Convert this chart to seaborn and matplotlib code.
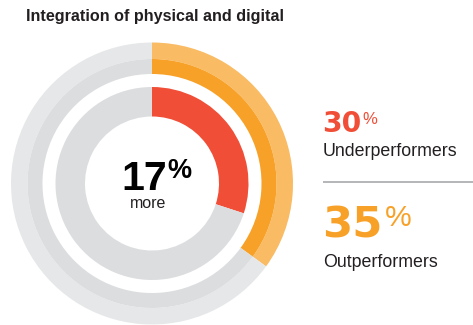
import matplotlib
matplotlib.use("Agg")
import matplotlib.pyplot as plt
import seaborn as sns

# ---- data ----
groups = ["Underperformers", "Outperformers"]
shares = [30, 35]            # % of each group integrating physical and digital
difference_pct = 17          # relative uplift shown in the centre
title = "Integration of physical and digital"
centre_note = "more"

# ---- style ----
sns.set_theme(style="white")
plt.rcParams["font.family"] = ["Liberation Sans", "DejaVu Sans"]

RED = "#f04e37"
ORANGE = "#f8a128"
ORANGE_LIGHT = "#f9bb63"
GREY = "#dcdddf"
GREY_LIGHT = "#e6e7e8"
INK = "#231f20"

W, H = 473, 325
fig = plt.figure(figsize=(W / 100, H / 100), dpi=100)
ax = fig.add_axes([0, 0, 1, 1])


def Y(py):
    """Convert a top-down pixel row to the axes' bottom-up coordinate."""
    return H - py


cx, cy = 152, Y(183.5)

under, out = shares

# outer ring (outperformers): light outer band + stronger inner band
ax.pie([out, 100 - out], radius=141, center=(cx, cy), startangle=90,
       counterclock=False, colors=[ORANGE_LIGHT, GREY_LIGHT],
       wedgeprops=dict(width=16.5, linewidth=0))
ax.pie([out, 100 - out], radius=124.5, center=(cx, cy), startangle=90,
       counterclock=False, colors=[ORANGE, GREY],
       wedgeprops=dict(width=15, linewidth=0))
# inner ring (underperformers)
ax.pie([under, 100 - under], radius=96.5, center=(cx, cy), startangle=90,
       counterclock=False, colors=[RED, GREY],
       wedgeprops=dict(width=29.5, linewidth=0))

ax.set_xlim(0, W)
ax.set_ylim(0, H)
ax.set_aspect("equal")
ax.axis("off")

fig.canvas.draw()
renderer = fig.canvas.get_renderer()


def number_with_percent(x, base_y, value, size, pct_size, pct_base, color,
                        gap=1.5, family=None, pct_weight="normal"):
    kw = {"family": family} if family else {}
    t = ax.text(x, Y(base_y), f"{value}", fontsize=size, fontweight="bold",
                color=color, ha="left", va="baseline", **kw)
    bb = t.get_window_extent(renderer=renderer)
    ax.text(bb.x1 + gap, Y(pct_base), "%", fontsize=pct_size,
            fontweight=pct_weight, color=color, ha="left", va="baseline")


# title
ax.text(26, Y(21.5), title, fontsize=11.6, fontweight="bold", color=INK,
        ha="left", va="baseline")

# centre label
number_with_percent(121, 189.5, difference_pct, 29.5, 19.5, 177.5, "black",
                    gap=1.0, pct_weight="bold")
ax.text(148.5, Y(207.5), centre_note, fontsize=11.5, color=INK,
        ha="center", va="baseline")

# right-hand annotations
number_with_percent(322, 132.3, under, 20.3, 12, 124.3, RED, gap=1.5,
                    family="DejaVu Sans")
ax.text(323, Y(156), groups[0], fontsize=12.8, color=INK,
        ha="left", va="baseline")

ax.plot([323, W], [Y(181.5), Y(181.5)], color="#a7a9ac", lw=1.2,
        solid_capstyle="butt")

number_with_percent(322.5, 237.3, out, 31.2, 21.6, 226.3, ORANGE, gap=1.5,
                    family="DejaVu Sans")
ax.text(323, Y(267), groups[1], fontsize=12.8, color=INK,
        ha="left", va="baseline")

fig.savefig("out.png", dpi=100, facecolor="white")
